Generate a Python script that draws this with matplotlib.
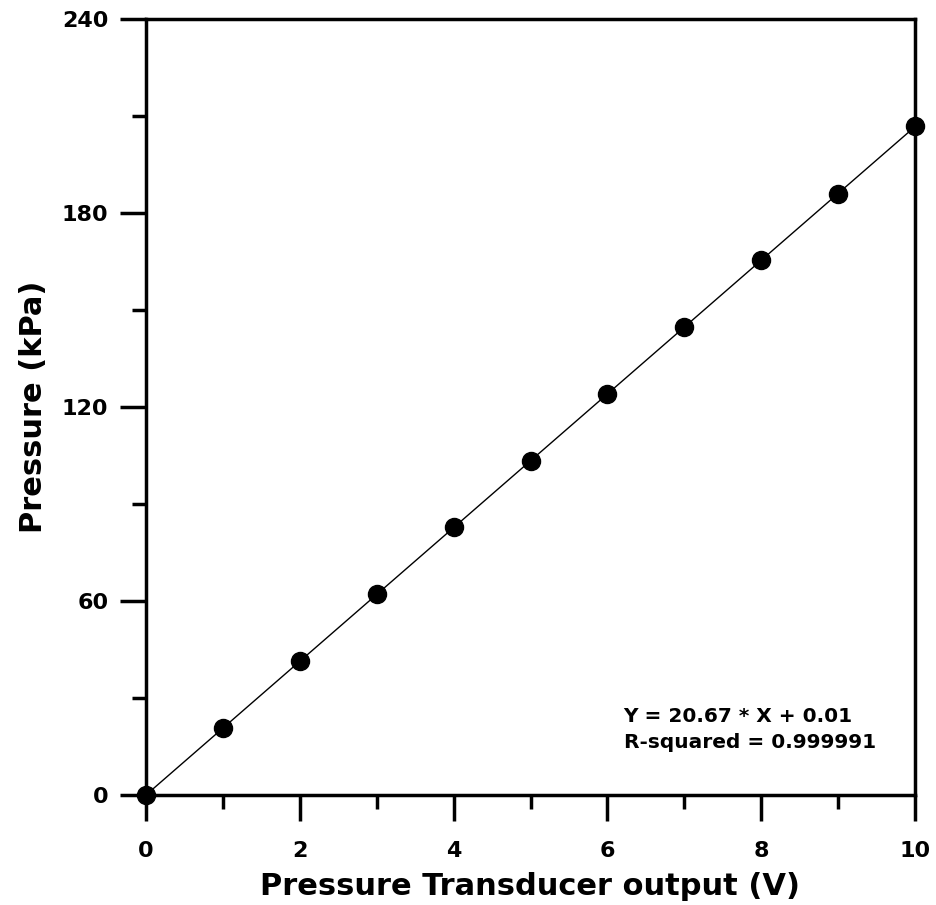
import matplotlib
matplotlib.use("Agg")
import matplotlib.pyplot as plt
from matplotlib.ticker import MultipleLocator
import numpy as np

# Calibration data
voltage = [0, 1, 2, 3, 4, 5, 6, 7, 8, 9, 10]
pressure = [0.0, 20.7, 41.4, 62.1, 82.8, 103.4, 124.0, 144.8, 165.5, 186.0, 206.8]

# Regression line shown on the chart
SLOPE = 20.67
INTERCEPT = 0.01
FIT_TEXT = "Y = 20.67 * X + 0.01\nR-squared = 0.999991"

plt.rcParams['font.family'] = ['DejaVu Sans']
plt.rcParams['font.weight'] = 'bold'

fig = plt.figure(figsize=(9.36, 9.05), dpi=100)
ax = fig.add_axes([146 / 936, 1 - 795 / 905, (915 - 146) / 936, (795 - 19) / 905])

xfit = np.array([voltage[0], voltage[-1]])
ax.plot(xfit, SLOPE * xfit + INTERCEPT, color='black', linewidth=1.0, zorder=2)
ax.plot(voltage, pressure, 'o', color='black', markersize=13, zorder=3, clip_on=False)

ax.set_xlim(0, 10)
ax.set_ylim(0, 240)
ax.xaxis.set_major_locator(MultipleLocator(2))
ax.xaxis.set_minor_locator(MultipleLocator(1))
ax.yaxis.set_major_locator(MultipleLocator(60))
ax.yaxis.set_minor_locator(MultipleLocator(30))

for s in ax.spines.values():
    s.set_linewidth(2.5)

ax.tick_params(which='major', direction='out', length=19, width=2.5, labelsize=16, pad=8)
ax.tick_params(which='minor', direction='out', length=10, width=2.5)
ax.tick_params(axis='x', which='major', pad=14)
ax.tick_params(top=False, right=False)
for lbl in ax.get_xticklabels() + ax.get_yticklabels():
    lbl.set_fontweight('bold')

ax.set_xlabel("Pressure Transducer output (V)", fontsize=22, fontweight='bold', labelpad=8)
ax.set_ylabel("Pressure (kPa)", fontsize=22, fontweight='bold', labelpad=10)

ax.text(0.621, 0.113, FIT_TEXT, transform=ax.transAxes, fontsize=14.5,
        fontweight='bold', va='top', ha='left', linespacing=1.45)

fig.savefig("out.png", dpi=100)
